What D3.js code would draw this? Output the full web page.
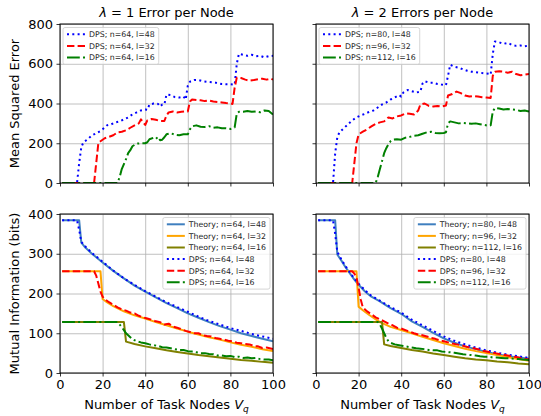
<!DOCTYPE html>
<meta charset="utf-8">
<script src="https://cdn.jsdelivr.net/npm/d3@7"></script>
<style>
    body { margin: 0; background: white; }
    svg { font-family: "DejaVu Sans", sans-serif; }
    .grid line { stroke: #b0b0b0; stroke-width: 0.8; }
</style>
<body>
<script>
    // ticks
    var xTicks = [0, 20, 40, 60, 80, 100];
    var mseTicks = [0, 200, 400, 600, 800];
    var miTicks = [0, 100, 200, 300, 400];

    // titles / labels
    var titleTexts = ["1 Error per Node", "2 Errors per Node"];
    var titleLambdas = ["1", "2"];
    var dpsLabelsLeft = ["DPS; n=64, l=48", "DPS; n=64, l=32", "DPS; n=64, l=16"];
    var dpsLabelsRight = ["DPS; n=80, l=48", "DPS; n=96, l=32", "DPS; n=112, l=16"];
    var theoryLabelsLeft = ["Theory; n=64, l=48", "Theory; n=64, l=32", "Theory; n=64, l=16"];
    var theoryLabelsRight = ["Theory; n=80, l=48", "Theory; n=96, l=32", "Theory; n=112, l=16"];

    // MSE, lambda = 1
    var mse1_48 = [[1,0],[8,0],[9,100],[10,180],[11,205],[13,220],[15,240],[17,250],[19,262],[20,270],[22,290],[24,295],[26,305],[28,310],[30,320],[32,330],[34,345],[36,355],[38,365],[40,370],[41,368],[42,395],[44,400],[46,398],[47,385],[48,395],[49,395],[50,445],[52,442],[54,432],[56,430],[58,435],[59,420],[60,490],[61,510],[63,518],[65,518],[67,512],[70,508],[73,505],[76,498],[78,497],[80,497],[82,495],[83,600],[84,650],[86,645],[88,640],[90,645],[92,638],[94,640],[96,632],[98,638],[100,640]];
    var mse1_32 = [[1,0],[16,0],[17,100],[18,200],[19,210],[21,225],[23,232],[25,240],[27,255],[29,258],[31,265],[33,278],[35,290],[37,300],[38,320],[39,305],[40,292],[41,315],[43,322],[45,318],[47,312],[49,312],[50,340],[51,355],[53,360],[55,355],[57,358],[59,360],[60,360],[61,410],[62,420],[64,418],[66,416],[68,412],[70,415],[72,410],[74,408],[76,405],[78,402],[80,400],[81,398],[82,480],[83,530],[85,528],[87,520],[89,515],[91,518],[93,522],[95,525],[97,520],[99,525],[100,520]];
    var mse1_16 = [[1,0],[27,0],[28,30],[29,70],[30,95],[31,120],[32,150],[33,165],[34,185],[36,198],[38,200],[40,200],[41,205],[42,220],[44,228],[45,222],[46,232],[47,215],[48,218],[49,230],[50,245],[52,250],[54,243],[56,240],[58,245],[60,245],[61,270],[62,285],[64,290],[66,283],[68,282],[70,286],[72,278],[74,280],[76,275],[78,275],[80,272],[82,280],[83,350],[84,358],[86,358],[88,362],[90,358],[92,360],[94,356],[96,365],[98,362],[100,345]];

    // MSE, lambda = 2
    var mse2_48 = [[1,0],[8,0],[9,150],[10,230],[11,255],[13,275],[15,295],[17,315],[19,330],[21,340],[23,348],[25,358],[27,365],[29,380],[31,395],[33,405],[35,420],[37,430],[39,442],[40,435],[41,455],[43,468],[45,462],[47,455],[49,460],[50,500],[51,512],[53,505],[55,505],[57,498],[59,495],[61,492],[62,540],[63,595],[65,585],[67,580],[69,572],[71,565],[73,560],[75,558],[77,555],[79,552],[81,550],[82,545],[83,650],[84,712],[86,708],[88,700],[90,705],[92,695],[94,690],[96,692],[98,688],[100,692]];
    var mse2_32 = [[1,0],[17,0],[18,100],[19,200],[20,245],[22,258],[24,270],[26,285],[28,298],[30,305],[32,310],[34,330],[36,325],[38,335],[40,340],[42,350],[44,348],[46,345],[48,365],[49,395],[51,400],[53,388],[55,385],[57,388],[59,385],[61,390],[62,440],[64,448],[66,460],[68,452],[70,440],[72,435],[74,438],[76,435],[78,432],[80,430],[82,428],[83,540],[84,560],[86,562],[88,560],[90,555],[92,560],[94,548],[96,542],[98,545],[100,548]];
    var mse2_16 = [[1,0],[28,0],[29,30],[30,70],[31,110],[32,150],[33,175],[34,195],[35,210],[36,218],[38,220],[40,218],[42,228],[44,232],[46,238],[48,240],[50,248],[52,255],[54,258],[56,252],[58,250],[60,252],[61,255],[62,300],[63,310],[65,305],[67,300],[69,302],[71,300],[73,298],[75,300],[77,296],[79,292],[81,288],[82,290],[83,360],[84,378],[86,375],[88,370],[90,372],[92,370],[94,368],[96,362],[98,365],[100,360]];

    // Mutual information, lambda = 1
    var th1_48 = [[1,384],[9,384],[10,328],[12,315],[15,300],[20,278],[25,257],[30,238],[35,220],[40,205],[45,190],[50,176],[55,163],[60,150],[65,139],[70,128],[75,118],[80,109],[85,100],[90,93],[95,86],[100,80]];
    var th1_32 = [[1,256],[19,256],[20,186],[22,178],[25,168],[30,155],[35,145],[40,137],[45,128],[50,120],[55,112],[60,104],[65,97],[70,90],[75,84],[80,77],[85,71],[90,66],[95,60],[100,55]];
    var th1_16 = [[1,128],[30,128],[31,79],[35,73],[40,67],[45,62],[50,57],[55,53],[60,49],[65,45],[70,42],[75,39],[80,36],[85,33],[90,31],[95,28],[100,26]];
    var mi1_48 = [[1,384],[8,384],[9,360],[10,330],[12,318],[15,302],[20,280],[25,258],[30,238],[35,222],[40,206],[45,192],[50,178],[55,166],[60,154],[65,142],[70,131],[75,122],[80,113],[85,106],[90,98],[95,92],[100,86]];
    var mi1_32 = [[1,256],[16,256],[17,245],[18,225],[19,205],[20,192],[21,186],[23,178],[25,172],[27,165],[29,160],[31,157],[33,152],[35,150],[37,144],[39,140],[41,137],[43,134],[45,130],[47,128],[49,122],[51,124],[53,117],[55,114],[57,110],[59,106],[61,103],[63,100],[65,100],[67,95],[69,93],[71,92],[73,88],[75,86],[77,84],[79,81],[81,80],[83,76],[85,75],[87,73],[89,72],[91,68],[93,67],[95,63],[97,64],[100,60]];
    var mi1_16 = [[1,128],[27,128],[28,122],[29,115],[30,108],[31,100],[32,95],[33,90],[34,85],[36,80],[38,77],[40,75],[42,72],[44,70],[46,68],[48,65],[50,64],[52,62],[54,60],[56,58],[58,58],[60,55],[62,54],[64,52],[66,50],[68,50],[70,48],[72,47],[74,44],[76,44],[78,42],[80,43],[82,40],[84,41],[86,38],[88,39],[90,37],[92,38],[94,35],[96,34],[98,34],[100,32]];

    // Mutual information, lambda = 2
    var th2_48 = [[1,384],[9,384],[10,298],[12,282],[14,265],[16,250],[18,235],[20,222],[23,205],[26,192],[30,180],[35,163],[40,149],[45,130],[50,116],[55,101],[60,87],[65,76],[70,67],[75,60],[80,53],[85,47],[90,42],[95,39],[100,36]];
    var th2_32 = [[1,256],[19,256],[20,167],[22,158],[25,146],[30,128],[35,116],[40,108],[45,100],[50,91],[55,83],[60,75],[65,68],[70,61],[75,55],[80,50],[85,45],[90,40],[95,35],[100,31]];
    var th2_16 = [[1,128],[31,128],[32,72],[35,68],[40,63],[45,58],[50,54],[55,49],[60,45],[65,41],[70,37],[75,34],[80,32],[85,29],[90,27],[95,24],[100,22]];
    var mi2_48 = [[1,384],[8,384],[9,350],[10,305],[12,285],[14,268],[16,252],[18,238],[20,225],[23,208],[26,194],[30,182],[35,166],[40,152],[45,134],[50,120],[55,106],[60,92],[65,81],[70,72],[75,64],[80,57],[85,51],[90,46],[95,42],[100,38]];
    var mi2_32 = [[1,256],[17,256],[18,250],[19,240],[20,215],[21,185],[22,165],[24,155],[26,148],[28,140],[30,135],[32,130],[34,124],[36,120],[38,114],[40,112],[42,108],[44,104],[46,100],[48,97],[50,95],[52,92],[54,88],[56,86],[58,82],[60,80],[62,77],[64,74],[66,72],[68,70],[70,67],[72,64],[74,62],[76,60],[78,56],[80,54],[82,52],[84,50],[86,48],[88,46],[90,44],[92,42],[94,40],[96,38],[98,36],[100,34]];
    var mi2_16 = [[1,128],[29,128],[30,122],[31,112],[32,100],[33,88],[34,80],[35,76],[37,72],[39,70],[41,68],[43,66],[45,64],[47,62],[49,61],[51,60],[53,58],[55,57],[57,57],[59,54],[61,53],[63,52],[65,51],[67,49],[69,47],[71,46],[73,45],[75,44],[77,42],[79,41],[81,41],[83,39],[85,39],[87,38],[89,37],[91,37],[93,36],[95,35],[97,34],[100,33]];

    // line styles (matplotlib-like, lw 2)
    var DOT = "2,3.3", DASH = "7.4,3.2", DASHDOT = "12.8,3.2,2,3.2";
    var dpsStyles = [{c: "blue", d: DOT}, {c: "red", d: DASH}, {c: "green", d: DASHDOT}];
    var thStyles = [{c: "#3f7fbf", d: null}, {c: "orange", d: null}, {c: "olive", d: null}];

    var svg = d3.select("body").append("svg").attr("width", 541).attr("height", 416);

    var panelW = 213, panelH = 159;
    var cols = [60, 316], rows = [24, 214];
    var clipId = 0;

    function drawPanel(px, py, yMax, yTicks, xLabels, yLabels, series, legendEntries, legendRight) {
        var g = svg.append("g").attr("transform", "translate(" + px + "," + py + ")");
        var x = d3.scaleLinear().domain([0, 100]).range([0, panelW]);
        var y = d3.scaleLinear().domain([0, yMax]).range([panelH, 0]);

        // grid
        g.append("g").attr("class", "grid")
            .attr("transform", "translate(0," + panelH + ")")
            .call(d3.axisBottom(x).tickValues(xTicks).tickSize(-panelH).tickFormat(""))
            .call(function(s) { s.select(".domain").remove(); });
        g.append("g").attr("class", "grid")
            .call(d3.axisLeft(y).tickValues(yTicks).tickSize(-panelW).tickFormat(""))
            .call(function(s) { s.select(".domain").remove(); });

        // clip
        clipId++;
        g.append("clipPath").attr("id", "clip" + clipId)
            .append("rect").attr("width", panelW).attr("height", panelH);

        var line = d3.line().x(function(d) { return x(d[0]); }).y(function(d) { return y(d[1]); });
        var lines = g.append("g").attr("clip-path", "url(#clip" + clipId + ")");
        series.forEach(function(s) {
            lines.append("path")
                .attr("d", line(s.data))
                .attr("fill", "none")
                .attr("stroke", s.style.c)
                .attr("stroke-width", 2)
                .attr("stroke-linejoin", "round")
                .attr("stroke-dasharray", s.style.d);
        });

        // axes
        var xa = g.append("g").attr("transform", "translate(0," + panelH + ")")
            .call(d3.axisBottom(x).tickValues(xTicks).tickSize(3.5).tickPadding(3.5)
                .tickFormat(xLabels ? d3.format("d") : ""));
        var ya = g.append("g")
            .call(d3.axisLeft(y).tickValues(yTicks).tickSize(3.5).tickPadding(3.5)
                .tickFormat(yLabels ? d3.format("d") : ""));
        [xa, ya].forEach(function(a) {
            a.select(".domain").remove();
            a.selectAll("line").attr("stroke", "black").attr("stroke-width", 0.8);
            a.selectAll("text").attr("font-size", 13).attr("fill", "black").attr("font-family", "DejaVu Sans");
        });
        g.append("rect").attr("width", panelW).attr("height", panelH)
            .attr("fill", "none").attr("stroke", "black").attr("stroke-width", 1);

        // legend
        var lg = g.append("g");
        var box = lg.append("rect").attr("rx", 2).attr("ry", 2)
            .attr("fill", "white").attr("fill-opacity", 0.8)
            .attr("stroke", "#cccccc").attr("stroke-width", 0.8);
        var maxW = 0;
        legendEntries.forEach(function(e, i) {
            var cy = 6.8 + i * 11.6;
            lg.append("line").attr("x1", 4).attr("x2", 22).attr("y1", cy).attr("y2", cy)
                .attr("stroke", e.style.c).attr("stroke-width", 2)
                .attr("stroke-dasharray", e.style.d);
            var t = lg.append("text").attr("x", 26).attr("y", cy).attr("dy", "0.36em")
                .attr("font-size", 7.8).attr("fill", "#262626").text(e.label);
            maxW = Math.max(maxW, t.node().getComputedTextLength());
        });
        var bw = 26 + maxW + 4, bh = legendEntries.length * 11.6 + 2;
        box.attr("width", bw).attr("height", bh);
        var lx = legendRight ? panelW - 3 - bw : 3;
        lg.attr("transform", "translate(" + lx + ",3.5)");
        return g;
    }

    var mseSets = [[mse1_48, mse1_32, mse1_16], [mse2_48, mse2_32, mse2_16]];
    var thSets = [[th1_48, th1_32, th1_16], [th2_48, th2_32, th2_16]];
    var miSets = [[mi1_48, mi1_32, mi1_16], [mi2_48, mi2_32, mi2_16]];
    var dpsLabels = [dpsLabelsLeft, dpsLabelsRight];
    var thLabels = [theoryLabelsLeft, theoryLabelsRight];

    [0, 1].forEach(function(c) {
        // top: MSE
        var topSeries = mseSets[c].map(function(d, i) { return {data: d, style: dpsStyles[i]}; });
        var topLegend = dpsLabels[c].map(function(l, i) { return {label: l, style: dpsStyles[i]}; });
        drawPanel(cols[c], rows[0], 800, mseTicks, false, c === 0, topSeries, topLegend, false);

        // bottom: mutual information
        var botSeries = thSets[c].map(function(d, i) { return {data: d, style: thStyles[i]}; })
            .concat(miSets[c].map(function(d, i) { return {data: d, style: dpsStyles[i]}; }));
        var botLegend = thLabels[c].map(function(l, i) { return {label: l, style: thStyles[i]}; })
            .concat(dpsLabels[c].map(function(l, i) { return {label: l, style: dpsStyles[i]}; }));
        drawPanel(cols[c], rows[1], 400, miTicks, true, c === 0, botSeries, botLegend, true);

        // title
        var t = svg.append("text").attr("x", cols[c] + panelW / 2).attr("y", 16.5)
            .attr("text-anchor", "middle").attr("font-size", 13);
        t.append("tspan").attr("font-style", "italic").text("λ");
        t.append("tspan").text(" = " + titleTexts[c]);

        // x label
        var xl = svg.append("text").attr("x", cols[c] + panelW / 2).attr("y", 409)
            .attr("text-anchor", "middle").attr("font-size", 13);
        xl.append("tspan").text("Number of Task Nodes ");
        xl.append("tspan").attr("font-style", "italic").text("V");
        xl.append("tspan").attr("font-style", "italic").attr("font-size", 9).attr("dy", 3).text("q");
    });

    // y labels
    svg.append("text").attr("transform", "translate(19," + (rows[0] + panelH / 2) + ") rotate(-90)")
        .attr("text-anchor", "middle").attr("font-size", 13).text("Mean Squared Error");
    svg.append("text").attr("transform", "translate(19," + (rows[1] + panelH / 2) + ") rotate(-90)")
        .attr("text-anchor", "middle").attr("font-size", 13).text("Mutual Information (bits)");
</script>
</body>
